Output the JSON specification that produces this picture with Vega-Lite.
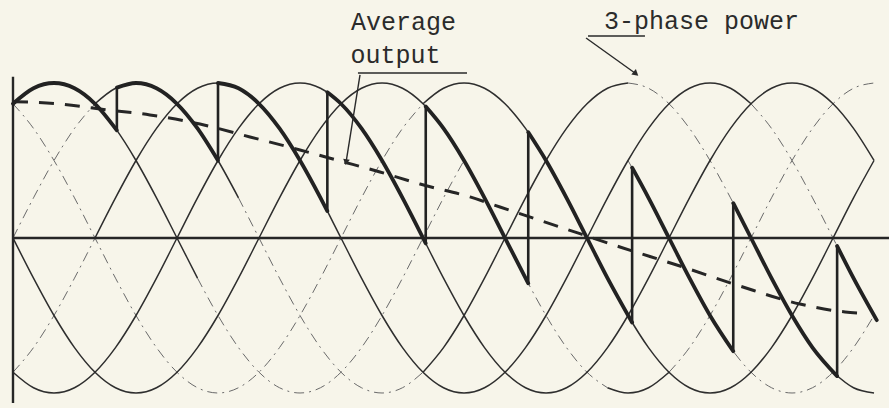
{
  "$schema": "https://vega.github.io/schema/vega-lite/v6.json",
  "width": 889,
  "height": 408,
  "autosize": {"type": "none"},
  "padding": 0,
  "background": "#f7f5ea",
  "config": {"view": {"stroke": null}},
  "datasets": {
    "phaseTraces": [
      {"seg":"A1","x":0,"v":0.866},{"seg":"A1","x":15,"v":0.966},{"seg":"A1","x":30,"v":1},{"seg":"A1","x":45,"v":0.966},{"seg":"A1","x":60,"v":0.866},{"seg":"A1","x":75,"v":0.707},{"seg":"A1","x":90,"v":0.5},{"seg":"A1","x":105,"v":0.259},{"seg":"A1","x":120,"v":0},{"seg":"A1","x":135,"v":-0.259},
      {"seg":"B2","x":60,"v":0.866},{"seg":"B2","x":75,"v":0.966},{"seg":"B2","x":90,"v":1},{"seg":"B2","x":105,"v":0.966},{"seg":"B2","x":120,"v":0.866},{"seg":"B2","x":135,"v":0.707},{"seg":"B2","x":150,"v":0.5},{"seg":"B2","x":165,"v":0.259},
      {"seg":"B4","x":300,"v":-0.866},{"seg":"B4","x":315,"v":-0.707},{"seg":"B4","x":330,"v":-0.5},{"seg":"B4","x":345,"v":-0.259},{"seg":"B4","x":360,"v":0},{"seg":"B4","x":375,"v":0.259},{"seg":"B4","x":390,"v":0.5},{"seg":"B4","x":405,"v":0.707},{"seg":"B4","x":420,"v":0.866},{"seg":"B4","x":435,"v":0.966},{"seg":"B4","x":450,"v":1},
      {"seg":"B6","x":600,"v":-0.866},{"seg":"B6","x":615,"v":-0.966},{"seg":"B6","x":630,"v":-1},
      {"seg":"C2","x":60,"v":0},{"seg":"C2","x":75,"v":0.259},{"seg":"C2","x":90,"v":0.5},{"seg":"C2","x":105,"v":0.707},{"seg":"C2","x":120,"v":0.866},{"seg":"C2","x":135,"v":0.966},{"seg":"C2","x":150,"v":1},{"seg":"C2","x":165,"v":0.966},{"seg":"C2","x":180,"v":0.866},{"seg":"C2","x":195,"v":0.707},{"seg":"C2","x":210,"v":0.5},{"seg":"C2","x":225,"v":0.259},{"seg":"C2","x":240,"v":0},{"seg":"C2","x":255,"v":-0.259},{"seg":"C2","x":270,"v":-0.5},{"seg":"C2","x":285,"v":-0.707},{"seg":"C2","x":300,"v":-0.866},{"seg":"C2","x":315,"v":-0.966},{"seg":"C2","x":330,"v":-1},{"seg":"C2","x":345,"v":-0.966},{"seg":"C2","x":360,"v":-0.866},{"seg":"C2","x":375,"v":-0.707},{"seg":"C2","x":390,"v":-0.5},{"seg":"C2","x":405,"v":-0.259},{"seg":"C2","x":420,"v":0},{"seg":"C2","x":435,"v":0.259},{"seg":"C2","x":450,"v":0.5},{"seg":"C2","x":465,"v":0.707},{"seg":"C2","x":480,"v":0.866},{"seg":"C2","x":495,"v":0.966},{"seg":"C2","x":510,"v":1},{"seg":"C2","x":525,"v":0.966},{"seg":"C2","x":540,"v":0.866},
      {"seg":"D1","x":0,"v":-0.866},{"seg":"D1","x":15,"v":-0.966},{"seg":"D1","x":30,"v":-1},{"seg":"D1","x":45,"v":-0.966},{"seg":"D1","x":60,"v":-0.866},{"seg":"D1","x":75,"v":-0.707},{"seg":"D1","x":90,"v":-0.5},{"seg":"D1","x":105,"v":-0.259},{"seg":"D1","x":120,"v":0},{"seg":"D1","x":135,"v":0.259},{"seg":"D1","x":150,"v":0.5},{"seg":"D1","x":165,"v":0.707},{"seg":"D1","x":180,"v":0.866},{"seg":"D1","x":195,"v":0.966},{"seg":"D1","x":210,"v":1},{"seg":"D1","x":225,"v":0.966},{"seg":"D1","x":240,"v":0.866},{"seg":"D1","x":255,"v":0.707},{"seg":"D1","x":270,"v":0.5},{"seg":"D1","x":285,"v":0.259},{"seg":"D1","x":300,"v":0},{"seg":"D1","x":315,"v":-0.259},{"seg":"D1","x":330,"v":-0.5},{"seg":"D1","x":345,"v":-0.707},{"seg":"D1","x":360,"v":-0.866},{"seg":"D1","x":375,"v":-0.966},{"seg":"D1","x":390,"v":-1},{"seg":"D1","x":405,"v":-0.966},{"seg":"D1","x":420,"v":-0.866},{"seg":"D1","x":435,"v":-0.707},{"seg":"D1","x":450,"v":-0.5},{"seg":"D1","x":465,"v":-0.259},{"seg":"D1","x":480,"v":0},{"seg":"D1","x":495,"v":0.259},{"seg":"D1","x":510,"v":0.5},{"seg":"D1","x":525,"v":0.707},{"seg":"D1","x":540,"v":0.866},{"seg":"D1","x":555,"v":0.966},{"seg":"D1","x":570,"v":1},{"seg":"D1","x":585,"v":0.966},{"seg":"D1","x":600,"v":0.866},{"seg":"D1","x":615,"v":0.707},{"seg":"D1","x":630,"v":0.5},
      {"seg":"E1","x":0,"v":0},{"seg":"E1","x":15,"v":-0.259},{"seg":"E1","x":30,"v":-0.5},{"seg":"E1","x":45,"v":-0.707},{"seg":"E1","x":60,"v":-0.866},{"seg":"E1","x":75,"v":-0.966},{"seg":"E1","x":90,"v":-1},{"seg":"E1","x":105,"v":-0.966},{"seg":"E1","x":120,"v":-0.866},{"seg":"E1","x":135,"v":-0.707},{"seg":"E1","x":150,"v":-0.5},{"seg":"E1","x":165,"v":-0.259},{"seg":"E1","x":180,"v":0},{"seg":"E1","x":195,"v":0.259},{"seg":"E1","x":210,"v":0.5},{"seg":"E1","x":225,"v":0.707},{"seg":"E1","x":240,"v":0.866},{"seg":"E1","x":255,"v":0.966},{"seg":"E1","x":270,"v":1},{"seg":"E1","x":285,"v":0.966},{"seg":"E1","x":300,"v":0.866},{"seg":"E1","x":315,"v":0.707},{"seg":"E1","x":330,"v":0.5},{"seg":"E1","x":345,"v":0.259},{"seg":"E1","x":360,"v":0},{"seg":"E1","x":375,"v":-0.259},
      {"seg":"E3","x":435,"v":-0.966},{"seg":"E3","x":450,"v":-1},{"seg":"E3","x":465,"v":-0.966},{"seg":"E3","x":480,"v":-0.866},
      {"seg":"F2","x":300,"v":0.866},{"seg":"F2","x":315,"v":0.966},{"seg":"F2","x":330,"v":1},{"seg":"F2","x":345,"v":0.966},{"seg":"F2","x":360,"v":0.866},{"seg":"F2","x":375,"v":0.707},{"seg":"F2","x":390,"v":0.5},{"seg":"F2","x":405,"v":0.259},{"seg":"F2","x":420,"v":0},{"seg":"F2","x":435,"v":-0.259},{"seg":"F2","x":450,"v":-0.5},{"seg":"F2","x":465,"v":-0.707},{"seg":"F2","x":480,"v":-0.866},{"seg":"F2","x":495,"v":-0.966},{"seg":"F2","x":510,"v":-1},{"seg":"F2","x":525,"v":-0.966},{"seg":"F2","x":540,"v":-0.866},{"seg":"F2","x":555,"v":-0.707},{"seg":"F2","x":570,"v":-0.5},{"seg":"F2","x":585,"v":-0.259},{"seg":"F2","x":600,"v":0},{"seg":"F2","x":615,"v":0.259},{"seg":"F2","x":630,"v":0.5}
    ],
    "constructionTraces": [
      {"seg":"A2","x":135,"v":-0.259},{"seg":"A2","x":150,"v":-0.5},{"seg":"A2","x":165,"v":-0.707},{"seg":"A2","x":180,"v":-0.866},{"seg":"A2","x":195,"v":-0.966},{"seg":"A2","x":210,"v":-1},{"seg":"A2","x":225,"v":-0.966},{"seg":"A2","x":240,"v":-0.866},{"seg":"A2","x":255,"v":-0.707},{"seg":"A2","x":270,"v":-0.5},{"seg":"A2","x":285,"v":-0.259},{"seg":"A2","x":300,"v":0},{"seg":"A2","x":315,"v":0.259},{"seg":"A2","x":330,"v":0.5},
      {"seg":"A3","x":450,"v":0.5},{"seg":"A3","x":465,"v":0.259},{"seg":"A3","x":480,"v":0},{"seg":"A3","x":495,"v":-0.259},{"seg":"A3","x":510,"v":-0.5},{"seg":"A3","x":525,"v":-0.707},{"seg":"A3","x":540,"v":-0.866},{"seg":"A3","x":555,"v":-0.966},{"seg":"A3","x":570,"v":-1},{"seg":"A3","x":585,"v":-0.966},{"seg":"A3","x":600,"v":-0.866},{"seg":"A3","x":615,"v":-0.707},{"seg":"A3","x":630,"v":-0.5},
      {"seg":"B1","x":0,"v":0},{"seg":"B1","x":15,"v":0.259},{"seg":"B1","x":30,"v":0.5},{"seg":"B1","x":45,"v":0.707},{"seg":"B1","x":60,"v":0.866},
      {"seg":"B3","x":165,"v":0.259},{"seg":"B3","x":180,"v":0},{"seg":"B3","x":195,"v":-0.259},{"seg":"B3","x":210,"v":-0.5},{"seg":"B3","x":225,"v":-0.707},{"seg":"B3","x":240,"v":-0.866},{"seg":"B3","x":255,"v":-0.966},{"seg":"B3","x":270,"v":-1},{"seg":"B3","x":285,"v":-0.966},{"seg":"B3","x":300,"v":-0.866},
      {"seg":"B5","x":450,"v":1},{"seg":"B5","x":465,"v":0.966},{"seg":"B5","x":480,"v":0.866},{"seg":"B5","x":495,"v":0.707},{"seg":"B5","x":510,"v":0.5},{"seg":"B5","x":525,"v":0.259},{"seg":"B5","x":540,"v":0},{"seg":"B5","x":555,"v":-0.259},{"seg":"B5","x":570,"v":-0.5},{"seg":"B5","x":585,"v":-0.707},{"seg":"B5","x":600,"v":-0.866},
      {"seg":"C1","x":0,"v":-0.866},{"seg":"C1","x":15,"v":-0.707},{"seg":"C1","x":30,"v":-0.5},{"seg":"C1","x":45,"v":-0.259},{"seg":"C1","x":60,"v":0},
      {"seg":"C3","x":540,"v":0.866},{"seg":"C3","x":555,"v":0.707},{"seg":"C3","x":570,"v":0.5},{"seg":"C3","x":585,"v":0.259},{"seg":"C3","x":600,"v":0},{"seg":"C3","x":615,"v":-0.259},{"seg":"C3","x":630,"v":-0.5},
      {"seg":"E2","x":375,"v":-0.259},{"seg":"E2","x":390,"v":-0.5},{"seg":"E2","x":405,"v":-0.707},{"seg":"E2","x":420,"v":-0.866},{"seg":"E2","x":435,"v":-0.966},
      {"seg":"E4","x":480,"v":-0.866},{"seg":"E4","x":495,"v":-0.707},{"seg":"E4","x":510,"v":-0.5},{"seg":"E4","x":525,"v":-0.259},{"seg":"E4","x":540,"v":0},{"seg":"E4","x":555,"v":0.259},{"seg":"E4","x":570,"v":0.5},{"seg":"E4","x":585,"v":0.707},{"seg":"E4","x":600,"v":0.866},{"seg":"E4","x":615,"v":0.966},{"seg":"E4","x":630,"v":1},
      {"seg":"F1","x":0,"v":0.866},{"seg":"F1","x":15,"v":0.707},{"seg":"F1","x":30,"v":0.5},{"seg":"F1","x":45,"v":0.259},{"seg":"F1","x":60,"v":0},{"seg":"F1","x":75,"v":-0.259},{"seg":"F1","x":90,"v":-0.5},{"seg":"F1","x":105,"v":-0.707},{"seg":"F1","x":120,"v":-0.866},{"seg":"F1","x":135,"v":-0.966},{"seg":"F1","x":150,"v":-1},{"seg":"F1","x":165,"v":-0.966},{"seg":"F1","x":180,"v":-0.866},{"seg":"F1","x":195,"v":-0.707},{"seg":"F1","x":210,"v":-0.5},{"seg":"F1","x":225,"v":-0.259},{"seg":"F1","x":240,"v":0},{"seg":"F1","x":255,"v":0.259},{"seg":"F1","x":270,"v":0.5},{"seg":"F1","x":285,"v":0.707},{"seg":"F1","x":300,"v":0.866}
    ],
    "output": [
      {"piece":0,"x":0,"v":0.866},{"piece":0,"x":15,"v":0.966},{"piece":0,"x":30,"v":1},{"piece":0,"x":45,"v":0.966},{"piece":0,"x":60,"v":0.866},{"piece":0,"x":76,"v":0.695},
      {"piece":1,"x":76,"v":0.970},{"piece":1,"x":90,"v":1},{"piece":1,"x":105,"v":0.966},{"piece":1,"x":120,"v":0.866},{"piece":1,"x":135,"v":0.707},{"piece":1,"x":150,"v":0.5},
      {"piece":2,"x":150,"v":1},{"piece":2,"x":165,"v":0.966},{"piece":2,"x":180,"v":0.866},{"piece":2,"x":195,"v":0.707},{"piece":2,"x":210,"v":0.5},{"piece":2,"x":225,"v":0.259},{"piece":2,"x":230,"v":0.174},
      {"piece":3,"x":230,"v":0.940},{"piece":3,"x":240,"v":0.866},{"piece":3,"x":255,"v":0.707},{"piece":3,"x":270,"v":0.5},{"piece":3,"x":285,"v":0.259},{"piece":3,"x":302,"v":-0.035},
      {"piece":4,"x":302,"v":0.848},{"piece":4,"x":315,"v":0.707},{"piece":4,"x":330,"v":0.5},{"piece":4,"x":345,"v":0.259},{"piece":4,"x":360,"v":0},{"piece":4,"x":377,"v":-0.292},
      {"piece":5,"x":377,"v":0.682},{"piece":5,"x":390,"v":0.5},{"piece":5,"x":405,"v":0.259},{"piece":5,"x":420,"v":0},{"piece":5,"x":435,"v":-0.259},{"piece":5,"x":453,"v":-0.545},
      {"piece":6,"x":453,"v":0.454},{"piece":6,"x":465,"v":0.259},{"piece":6,"x":480,"v":0},{"piece":6,"x":495,"v":-0.259},{"piece":6,"x":510,"v":-0.5},{"piece":6,"x":527,"v":-0.731},
      {"piece":7,"x":527,"v":0.225},{"piece":7,"x":540,"v":0},{"piece":7,"x":555,"v":-0.259},{"piece":7,"x":570,"v":-0.5},{"piece":7,"x":585,"v":-0.707},{"piece":7,"x":603,"v":-0.891},
      {"piece":8,"x":603,"v":-0.052},{"piece":8,"x":615,"v":-0.259},{"piece":8,"x":632,"v":-0.530}
    ],
    "firing": [
      {"x":76,"v":0.695,"v2":0.970},{"x":150,"v":0.5,"v2":1},{"x":230,"v":0.174,"v2":0.940},{"x":302,"v":-0.035,"v2":0.848},
      {"x":377,"v":-0.292,"v2":0.682},{"x":453,"v":-0.545,"v2":0.454},{"x":527,"v":-0.731,"v2":0.225},{"x":603,"v":-0.891,"v2":-0.052}
    ],
    "average": [
      {"x":0,"v":0.88},{"x":34.4,"v":0.865},{"x":63.7,"v":0.832},{"x":100.2,"v":0.794},{"x":136.8,"v":0.735},{"x":173.4,"v":0.652},{"x":210,"v":0.568},{"x":239.3,"v":0.497},{"x":268.5,"v":0.426},{"x":297.8,"v":0.348},{"x":334.4,"v":0.265},{"x":356.3,"v":0.2},{"x":400.2,"v":0.071},{"x":444.1,"v":-0.058},{"x":488,"v":-0.181},{"x":531.9,"v":-0.31},{"x":575.8,"v":-0.426},{"x":608.8,"v":-0.477},{"x":619,"v":-0.484}
    ],
    "frame": [
      {"x":0,"x2":0,"v":-1.065,"v2":1.04},
      {"x":0,"x2":641,"v":0,"v2":0}
    ],
    "leaders": [
      {"x":252.4,"x2":332.2,"v":1.065,"v2":1.065},
      {"x":253.9,"x2":243.7,"v":1.052,"v2":0.49},
      {"x":420.7,"x2":462.4,"v":1.303,"v2":1.303},
      {"x":419.3,"x2":455.8,"v":1.29,"v2":1.06}
    ],
    "labels": [
      {"label":"Average","x":285.7,"v":1.342},
      {"label":"output","x":279.9,"v":1.129},
      {"label":"3-phase power","x":503.8,"v":1.348}
    ]
  },
  "encoding": {
    "x": {"field": "x", "type": "quantitative", "scale": {"domain": [-9.51, 640.96], "nice": false, "zero": false}, "axis": null},
    "y": {"field": "v", "type": "quantitative", "scale": {"domain": [-1.0968, 1.5355], "nice": false, "zero": false}, "axis": null}
  },
  "layer": [
    {
      "data": {"name": "constructionTraces"},
      "mark": {"type": "line", "interpolate": "monotone", "stroke": "#6a6a6a", "strokeWidth": 1, "strokeDash": [10, 5, 2, 5]},
      "encoding": {"detail": {"field": "seg"}}
    },
    {
      "data": {"name": "phaseTraces"},
      "mark": {"type": "line", "interpolate": "monotone", "stroke": "#2e2e2e", "strokeWidth": 1.5},
      "encoding": {"detail": {"field": "seg"}}
    },
    {
      "data": {"name": "frame"},
      "mark": {"type": "rule", "stroke": "#262626", "strokeWidth": 2.4},
      "encoding": {"x2": {"field": "x2"}, "y2": {"field": "v2"}}
    },
    {
      "data": {"name": "average"},
      "mark": {"type": "line", "interpolate": "monotone", "stroke": "#262626", "strokeWidth": 3, "strokeDash": [15, 11]},
      "encoding": {}
    },
    {
      "data": {"name": "output"},
      "mark": {"type": "line", "interpolate": "monotone", "stroke": "#222222", "strokeWidth": 3.8, "strokeCap": "round"},
      "encoding": {"detail": {"field": "piece"}}
    },
    {
      "data": {"name": "firing"},
      "mark": {"type": "rule", "stroke": "#222222", "strokeWidth": 2.6},
      "encoding": {"y2": {"field": "v2"}}
    },
    {
      "data": {"name": "leaders"},
      "mark": {"type": "rule", "stroke": "#2a2a2a", "strokeWidth": 1.4},
      "encoding": {"x2": {"field": "x2"}, "y2": {"field": "v2"}}
    },
    {
      "data": {"values": [{"x": 243.7, "v": 0.49}]},
      "mark": {"type": "point", "shape": "triangle-down", "filled": true, "size": 45, "angle": 9, "color": "#2a2a2a", "opacity": 1},
      "encoding": {}
    },
    {
      "data": {"values": [{"x": 455.8, "v": 1.06}]},
      "mark": {"type": "point", "shape": "triangle-down", "filled": true, "size": 50, "angle": -50, "color": "#2a2a2a", "opacity": 1},
      "encoding": {}
    },
    {
      "data": {"name": "labels"},
      "mark": {"type": "text", "font": "Liberation Mono", "fontSize": 25, "align": "center", "baseline": "alphabetic", "fill": "#2b2b2b"},
      "encoding": {"text": {"field": "label"}}
    }
  ]
}
